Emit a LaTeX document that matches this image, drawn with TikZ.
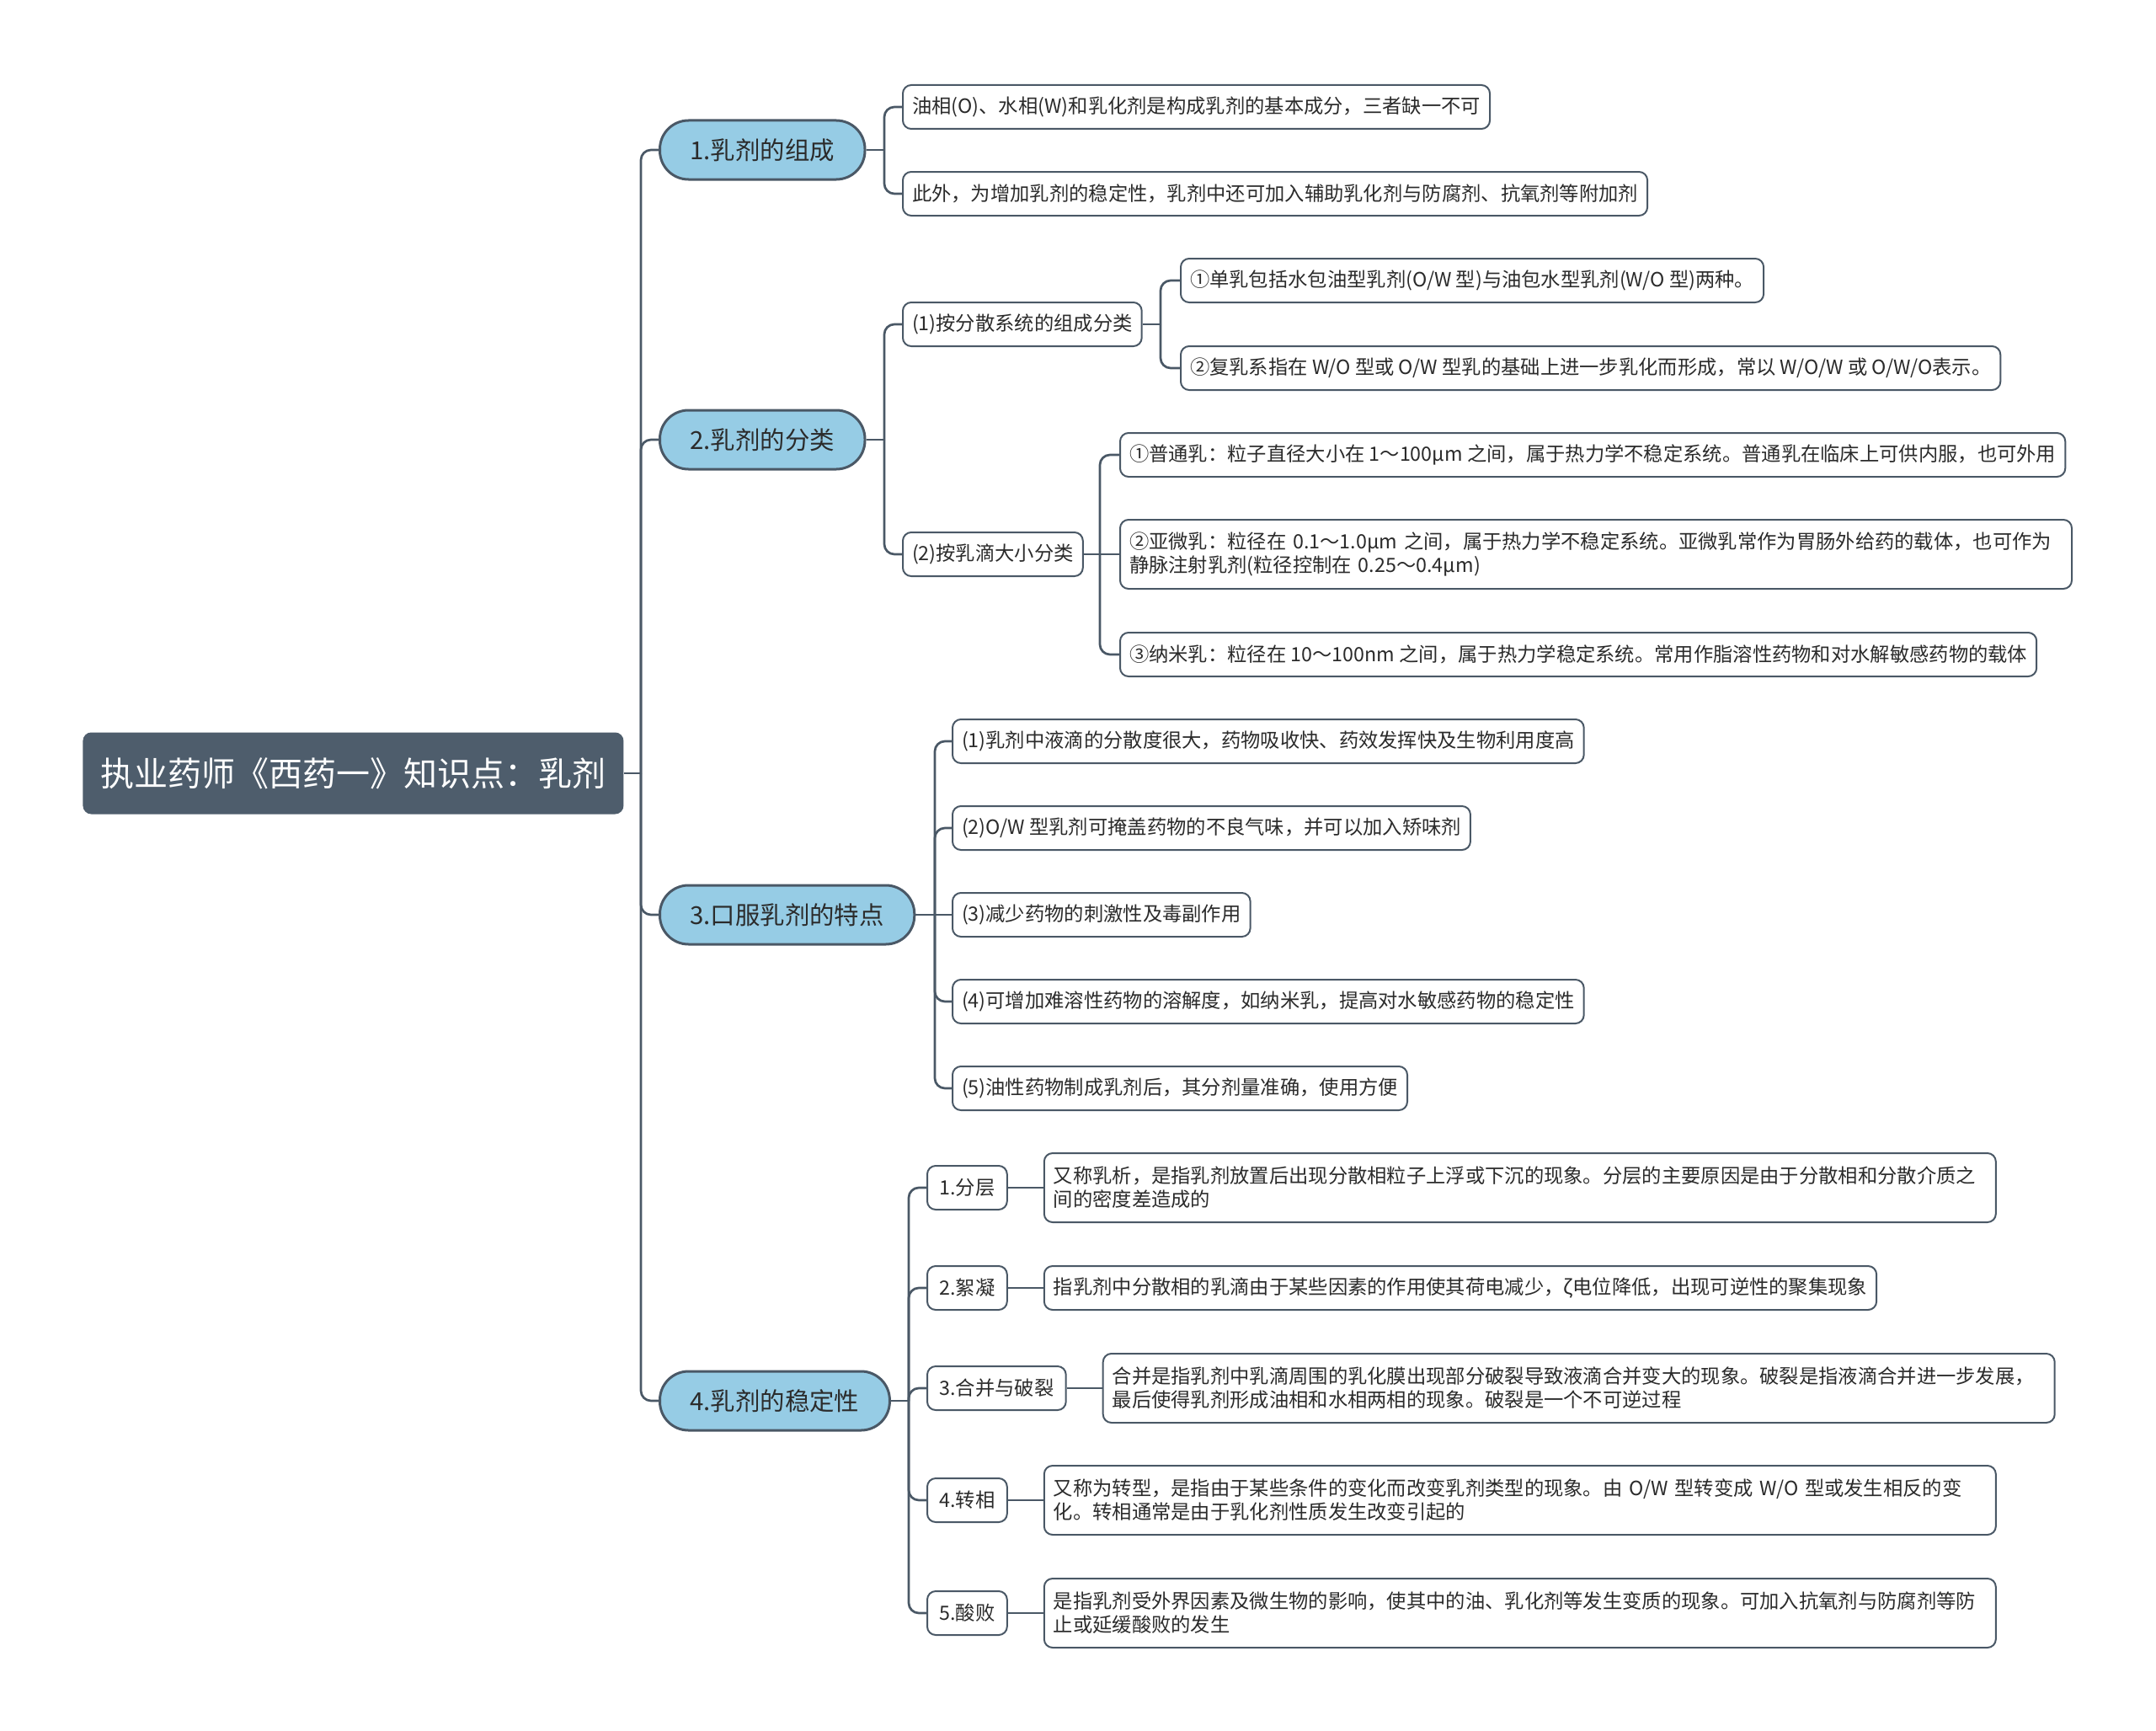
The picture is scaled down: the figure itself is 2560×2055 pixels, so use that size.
\documentclass[tikz,border=0pt]{standalone}
\usepackage{fontspec}
\setmainfont{Noto Sans CJK SC}
\usepackage{tikz}
\usetikzlibrary{positioning}

\definecolor{linec}{HTML}{4A5866}
\definecolor{rootc}{HTML}{4E5D6C}
\definecolor{topicc}{HTML}{96CCE5}
\definecolor{textc}{HTML}{2B2B2B}

\begin{document}
\begin{tikzpicture}[x=0.5pt, y=-0.5pt,
        link/.style={draw=linec, line width=1.35pt, rounded corners=6pt},
        root/.style={fill=rootc, text=white, rounded corners=5pt, minimum width=321pt, minimum height=48.5pt, font=\fontsize{20}{24}\selectfont, anchor=west},
        topic/.style={draw=linec, line width=1.5pt, fill=topicc, text=textc, rounded corners=17pt, inner xsep=18pt, minimum height=35pt, font=\fontsize{14.7}{17}\selectfont, anchor=west},
        leaf/.style={draw=linec, line width=1pt, fill=white, text=textc, rounded corners=5pt, inner xsep=5.5pt, minimum height=26pt, font=\fontsize{11.65}{13.9}\selectfont, anchor=west},
        tag/.style={leaf, inner xsep=7.2pt},
        longleaf/.style={leaf, text width=554pt, align=left, minimum height=41pt}]

            \useasboundingbox (0,0) rectangle (2560,2055);

            \node[root] (root) at (98,918) {执业药师《西药一》知识点：乳剂};

            \node[topic] (n1) at (782,178) {1.乳剂的组成};
            \node[topic] (n2) at (782,522) {2.乳剂的分类};
            \node[topic] (n3) at (782,1086) {3.口服乳剂的特点};
            \node[topic] (n4) at (782,1663) {4.乳剂的稳定性};

            \node[leaf] (a1) at (1071,127) {油相(O)、水相(W)和乳化剂是构成乳剂的基本成分，三者缺一不可};
            \node[leaf] (a2) at (1071,230) {此外，为增加乳剂的稳定性，乳剂中还可加入辅助乳化剂与防腐剂、抗氧剂等附加剂};

            \node[leaf] (b1) at (1071,385) {(1)按分散系统的组成分类};
            \node[leaf] (b11) at (1401,333) {①单乳包括水包油型乳剂(O/W 型)与油包水型乳剂(W/O 型)两种。};
            \node[leaf] (b12) at (1401,437) {②复乳系指在 W/O 型或 O/W 型乳的基础上进一步乳化而形成，常以 W/O/W 或 O/W/O表示。};
            \node[leaf] (b2) at (1071,658) {(2)按乳滴大小分类};
            \node[leaf] (b21) at (1329,540) {①普通乳：粒子直径大小在 1～100μm 之间，属于热力学不稳定系统。普通乳在临床上可供内服，也可外用};
            \node[longleaf] (b22) at (1329,658) {②亚微乳：粒径在 0.1～1.0μm 之间，属于热力学不稳定系统。亚微乳常作为胃肠外给药的载体，也可作为\\静脉注射乳剂(粒径控制在 0.25～0.4μm)};
            \node[leaf] (b23) at (1329,777) {③纳米乳：粒径在 10～100nm 之间，属于热力学稳定系统。常用作脂溶性药物和对水解敏感药物的载体};

            \node[leaf] (c1) at (1130,880) {(1)乳剂中液滴的分散度很大，药物吸收快、药效发挥快及生物利用度高};
            \node[leaf] (c2) at (1130,983) {(2)O/W 型乳剂可掩盖药物的不良气味，并可以加入矫味剂};
            \node[leaf] (c3) at (1130,1086) {(3)减少药物的刺激性及毒副作用};
            \node[leaf] (c4) at (1130,1189) {(4)可增加难溶性药物的溶解度，如纳米乳，提高对水敏感药物的稳定性};
            \node[leaf] (c5) at (1130,1292) {(5)油性药物制成乳剂后，其分剂量准确，使用方便};

            \node[tag] (d1) at (1100,1410) {1.分层};
            \node[longleaf, right=21pt of d1] (d1t) {又称乳析，是指乳剂放置后出现分散相粒子上浮或下沉的现象。分层的主要原因是由于分散相和分散介质之\\间的密度差造成的};
            \node[tag] (d2) at (1100,1529) {2.絮凝};
            \node[leaf, right=21pt of d2] (d2t) {指乳剂中分散相的乳滴由于某些因素的作用使其荷电减少，ζ电位降低，出现可逆性的聚集现象};
            \node[tag] (d3) at (1100,1648) {3.合并与破裂};
            \node[longleaf, right=21pt of d3] (d3t) {合并是指乳剂中乳滴周围的乳化膜出现部分破裂导致液滴合并变大的现象。破裂是指液滴合并进一步发展，\\最后使得乳剂形成油相和水相两相的现象。破裂是一个不可逆过程};
            \node[tag] (d4) at (1100,1781) {4.转相};
            \node[longleaf, right=21pt of d4] (d4t) {又称为转型，是指由于某些条件的变化而改变乳剂类型的现象。由 O/W 型转变成 W/O 型或发生相反的变\\化。转相通常是由于乳化剂性质发生改变引起的};
            \node[tag] (d5) at (1100,1915) {5.酸败};
            \node[longleaf, right=21pt of d5] (d5t) {是指乳剂受外界因素及微生物的影响，使其中的油、乳化剂等发生变质的现象。可加入抗氧剂与防腐剂等防\\止或延缓酸败的发生};

            \coordinate (s0) at (761,918);
            \coordinate (s1) at (1050,178);
            \coordinate (s2) at (1050,522);
            \coordinate (s21) at (1378,385);
            \coordinate (s22) at (1306,658);
            \coordinate (s3) at (1110,1086);
            \coordinate (s4) at (1079,1663);

            \draw[link] (root.east) -- (s0);
            \draw[link] (s0) |- (n1.west);
            \draw[link] (s0) |- (n2.west);
            \draw[link] (s0) |- (n3.west);
            \draw[link] (s0) |- (n4.west);

            \draw[link] (n1.east) -- (s1);
            \draw[link] (s1) |- (a1.west);
            \draw[link] (s1) |- (a2.west);

            \draw[link] (n2.east) -- (s2);
            \draw[link] (s2) |- (b1.west);
            \draw[link] (s2) |- (b2.west);
            \draw[link] (b1.east) -- (s21);
            \draw[link] (s21) |- (b11.west);
            \draw[link] (s21) |- (b12.west);
            \draw[link] (b2.east) -- (s22);
            \draw[link] (s22) |- (b21.west);
            \draw[link] (s22) -- (b22.west);
            \draw[link] (s22) |- (b23.west);

            \draw[link] (n3.east) -- (s3);
            \draw[link] (s3) |- (c1.west);
            \draw[link] (s3) |- (c2.west);
            \draw[link] (s3) -- (c3.west);
            \draw[link] (s3) |- (c4.west);
            \draw[link] (s3) |- (c5.west);

            \draw[link] (n4.east) -- (s4);
            \draw[link] (s4) |- (d1.west);
            \draw[link] (s4) |- (d2.west);
            \draw[link] (s4) |- (d3.west);
            \draw[link] (s4) |- (d4.west);
            \draw[link] (s4) |- (d5.west);
            \draw[link] (d1.east) -- (d1t.west);
            \draw[link] (d2.east) -- (d2t.west);
            \draw[link] (d3.east) -- (d3t.west);
            \draw[link] (d4.east) -- (d4t.west);
            \draw[link] (d5.east) -- (d5t.west);

        \end{tikzpicture}
\end{document}
